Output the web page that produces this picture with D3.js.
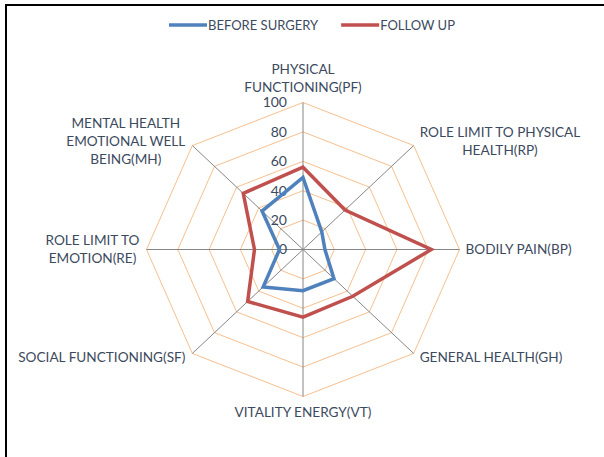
<!DOCTYPE html>
<html>
<head>
<meta charset="utf-8">
<script src="https://cdn.jsdelivr.net/npm/d3@7"></script>
<style>
  body { margin: 0; background: #fff; }
  svg { display: block; }
</style>
</head>
<body>
<svg width="604" height="457"></svg>
<script>
// categories, clockwise from the top
const categories = [
  ['PHYSICAL', 'FUNCTIONING(PF)'],
  ['ROLE LIMIT TO PHYSICAL', 'HEALTH(RP)'],
  ['BODILY PAIN(BP)'],
  ['GENERAL HEALTH(GH)'],
  ['VITALITY ENERGY(VT)'],
  ['SOCIAL FUNCTIONING(SF)'],
  ['ROLE LIMIT TO', 'EMOTION(RE)'],
  ['MENTAL HEALTH', 'EMOTIONAL WELL', 'BEING(MH)']
];
const beforeSurgery = [49, 17, 14, 28, 28, 36, 15, 37];
const followUp = [56, 38, 82, 45, 46, 50, 31, 54];
const seriesNames = ['BEFORE SURGERY', 'FOLLOW UP'];
const tickValues = [0, 20, 40, 60, 80, 100];

const svg = d3.select('svg');
const width = +svg.attr('width');
const height = +svg.attr('height');

const textColor = '#3c4a5e';
const font = 'Lato, "Open Sans", sans-serif';
const colors = ['#4f81bd', '#c0504d'];

// frame (only top and left edge show in the picture)
svg.append('line').attr('x1', 5).attr('y1', 5).attr('x2', width).attr('y2', 5)
  .attr('stroke', '#000').attr('stroke-width', 2);
svg.append('line').attr('x1', 6).attr('y1', 5).attr('x2', 6).attr('y2', height)
  .attr('stroke', '#000').attr('stroke-width', 2);

// centre and radii (picture is a bit stretched sideways)
const cx = 303, cy = 249.5;
const rx = d3.scaleLinear().domain([0, 100]).range([0, 156.5]);
const ry = d3.scaleLinear().domain([0, 100]).range([0, 147]);
const angle = i => i * 2 * Math.PI / categories.length;

const pt = (i, v) => [cx + rx(v) * Math.sin(angle(i)), cy - ry(v) * Math.cos(angle(i))];

const g = svg.append('g');

// rings
const line = d3.line();
tickValues.filter(d => d > 0).forEach(t => {
  g.append('path')
    .attr('d', line.curve(d3.curveLinearClosed)(categories.map((c, i) => pt(i, t))))
    .attr('fill', 'none')
    .attr('stroke', '#f7c08e')
    .attr('stroke-width', 1);
});

// spokes
categories.forEach((c, i) => {
  const [x, y] = pt(i, 100);
  g.append('line')
    .attr('x1', cx).attr('y1', cy).attr('x2', x).attr('y2', y)
    .attr('stroke', '#868686').attr('stroke-width', 1);
});

// tick labels
g.selectAll('.tick').data(tickValues).join('text')
  .attr('x', cx - 16)
  .attr('y', d => cy - ry(d))
  .attr('dy', '0.35em')
  .attr('text-anchor', 'end')
  .attr('font-family', font).attr('font-size', 14)
  .attr('fill', textColor)
  .text(d => d);

// series
[beforeSurgery, followUp].forEach((vals, k) => {
  g.append('path')
    .attr('d', d3.line().curve(d3.curveLinearClosed)(vals.map((v, i) => pt(i, v))))
    .attr('fill', 'none')
    .attr('stroke', colors[k])
    .attr('stroke-width', 3.5)
    .attr('stroke-linejoin', 'miter');
});

// category labels
const lh = 18;
categories.forEach((lines, i) => {
  const [ex, ey] = pt(i, 100);
  const s = Math.sin(angle(i)), c = Math.cos(angle(i));
  const t = g.append('text')
    .attr('font-family', font).attr('font-size', 13.6)
    .attr('fill', textColor)
    .attr('text-anchor', 'middle');
  const spans = lines.map(l => t.append('tspan').text(l));
  const w = d3.max(spans, sp => sp.node().getComputedTextLength());
  let bx, firstY;
  const n = lines.length;
  if (Math.abs(s) < 0.01) {
    bx = ex;
    firstY = c > 0 ? ey - 15.5 - (n - 1) * lh : ey + 16;
  } else {
    bx = s > 0 ? ex + 6 + w / 2 : ex - 7 - w / 2;
    const mid = Math.abs(c) < 0.01 ? ey : (c > 0 ? ey - 4.5 : ey + 4);
    firstY = mid - (n - 1) * lh / 2;
  }
  spans.forEach((sp, j) => sp.attr('x', bx).attr('y', firstY + j * lh).attr('dy', '0.35em'));
});

// legend
const legend = svg.append('g');
let lx = 0;
seriesNames.forEach((name, k) => {
  const item = legend.append('g').attr('transform', `translate(${lx},0)`);
  item.append('line').attr('x1', 0).attr('x2', 38).attr('y1', 0).attr('y2', 0)
    .attr('stroke', colors[k]).attr('stroke-width', 3.5);
  const txt = item.append('text').attr('x', 39).attr('dy', '0.35em')
    .attr('font-family', font).attr('font-size', 13)
    .attr('fill', textColor).text(name);
  lx += 39 + txt.node().getComputedTextLength() + 23;
});
const legendW = lx - 23;
legend.attr('transform', `translate(${312 - legendW / 2},25)`);
</script>
</body>
</html>
